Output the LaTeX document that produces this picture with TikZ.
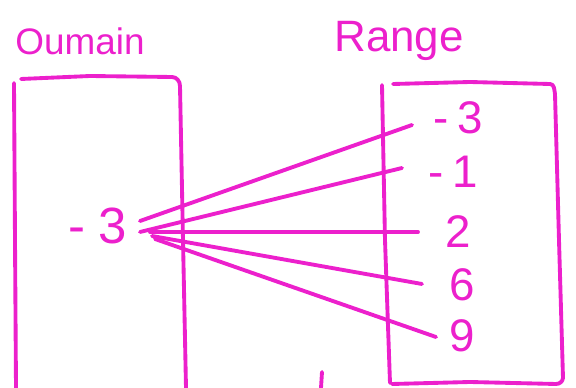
\documentclass[tikz,border=0pt]{standalone}
\usepackage{fontspec}
\setmainfont{Liberation Sans}
\definecolor{penpink}{RGB}{236,32,204}

\begin{document}
\begin{tikzpicture}[
    x=0.02cm, y=-0.02cm,
    pen/.style={draw=penpink, line width=2.2pt, line cap=round, line join=round},
    link/.style={pen},
    title/.style={text=penpink, font=\fontsize{21}{24}\selectfont, inner sep=0pt},
    val/.style={text=penpink, font=\fontsize{26}{28}\selectfont, inner sep=0pt},
  ]
  \useasboundingbox (0,0) rectangle (576,388);

  % --- headings ---
  \node[title, anchor=base west] (dlab) at (15,55) {Oumain};
  \node[title, anchor=base west, font=\fontsize{25}{28}\selectfont] (rlab) at (334,52) {Range};

  % ================================================================
  %  BOXES (hand drawn, open at the bottom / corners)
  % ================================================================
  \draw[pen] (21,79) -- (90,76) -- (172,77) to[out=0,in=90] (180,86) -- (183,240) -- (186,388);
  \draw[pen] (14,83) -- (15,240) -- (16,388);
  \draw[pen] (382,85) -- (385,240) -- (390,383);
  \draw[pen] (393,84) -- (470,82) -- (550,84) to[out=0,in=100] (555,94) -- (559,240) -- (563,378)
    to[out=-95,in=0] (556,384) -- (470,382) -- (392,384);
  \draw[pen] (322,372) -- (321,388);

  % ================================================================
  %  VALUES
  % ================================================================
  \node[val, font=\fontsize{29}{31}\selectfont] (dm) at (98,226) {-\hspace{0.25em}3};

  \node[val] (r1) at (458,118) {-\hspace{0.2em}3};
  \node[val] (r2) at (453,172) {-\hspace{0.2em}1};
  \node[val] (r3) at (458,232) {2};
  \node[val] (r4) at (462,285) {6};
  \node[val] (r5) at (462,336) {9};

  % --- mapping ---
  \draw[link] ([shift={(42,-5)}]dm.center) -- ([shift={(-46,7)}]r1.center);
  \draw[link] ([shift={(42,6)}]dm.center) -- ([shift={(-51,-4)}]r2.center);
  \draw[link] ([shift={(52,6)}]dm.center) -- ([shift={(-40,0)}]r3.center);
  \draw[link] ([shift={(54,10)}]dm.center) -- ([shift={(-40,-1)}]r4.center);
  \draw[link] ([shift={(57,13)}]dm.center) -- ([shift={(-26,1)}]r5.center);

\end{tikzpicture}
\end{document}
